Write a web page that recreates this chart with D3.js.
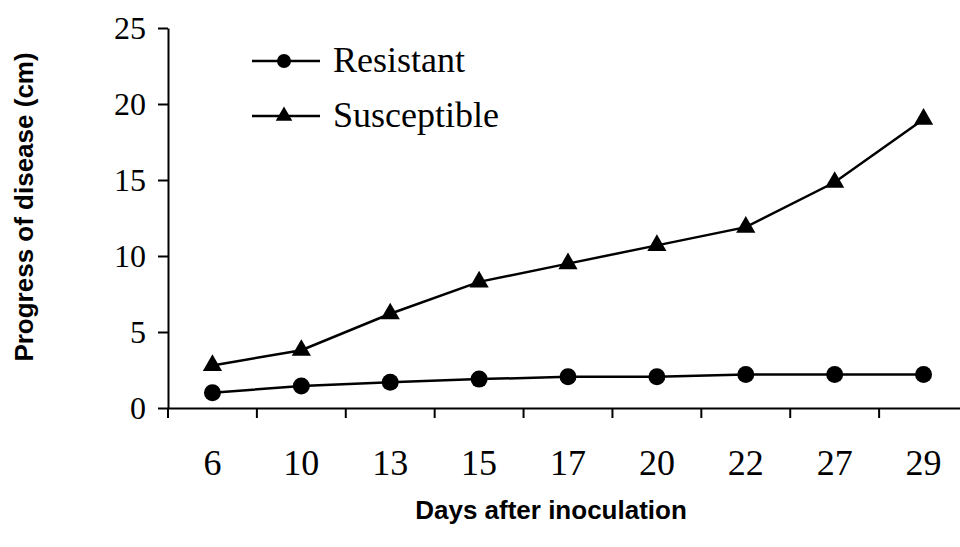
<!DOCTYPE html>
<html><head><meta charset="utf-8">
<script src="https://cdn.jsdelivr.net/npm/d3@7"></script>
<style>body{margin:0;background:#fff}svg{display:block}</style>
</head><body>
<svg id="c" width="960" height="547"></svg>
<script>
const days = ["6","10","13","15","17","20","22","27","29"];
const resistant = [1.0,1.45,1.7,1.9,2.05,2.05,2.2,2.2,2.2];
const susceptible = [2.8,3.8,6.2,8.3,9.5,10.7,11.9,14.85,19.0];
const yTicks = [0,5,10,15,20,25];
const seriesNames = ["Resistant","Susceptible"];

const svg = d3.select("#c");
const x = d3.scaleBand().domain(days).range([168,968]);
const y = d3.scaleLinear().domain([0,25]).range([408,28]);
const serif = "'Liberation Serif','Times New Roman',serif";
const sans = "'Liberation Sans',Arial,sans-serif";

// Y axis
const ya = svg.append("g").attr("transform","translate(168,0)")
  .call(d3.axisLeft(y).tickValues(yTicks).tickSize(10).tickPadding(12).tickSizeOuter(0));
ya.select(".domain").attr("stroke","#000").attr("stroke-width",2);
ya.selectAll(".tick line").attr("stroke","#000").attr("stroke-width",2);
ya.selectAll(".tick text").attr("font-family",serif).attr("font-size",32).attr("fill","#000");
svg.append("line").attr("x1",168).attr("x2",168).attr("y1",408).attr("y2",418).attr("stroke","#000").attr("stroke-width",2);

// X axis
const xa = svg.append("g").attr("transform","translate(0,408)")
  .call(d3.axisBottom(x).tickSize(0).tickSizeOuter(0));
xa.select(".domain").attr("stroke","#000").attr("stroke-width",2);
xa.selectAll(".tick text").attr("font-family",serif).attr("font-size",36).attr("fill","#000")
  .attr("y",67).attr("dy",0);
svg.append("g").selectAll("line").data(days).join("line")
  .attr("x1",d=>x(d)).attr("x2",d=>x(d)).attr("y1",408).attr("y2",418)
  .attr("stroke","#000").attr("stroke-width",2);

// Titles
svg.append("text").attr("x",551).attr("y",519).attr("text-anchor","middle")
  .attr("font-family",sans).attr("font-weight","bold").attr("font-size",26).text("Days after inoculation");
svg.append("text").attr("transform","translate(33,207) rotate(-90)").attr("text-anchor","middle")
  .attr("font-family",sans).attr("font-weight","bold").attr("font-size",26).text("Progress of disease (cm)");

const cx = d => x(d)+x.bandwidth()/2;
const line = d3.line().x((v,i)=>cx(days[i])).y(v=>y(v));
const tri = d3.symbol().type(d3.symbolTriangle);

svg.append("path").attr("d",line(susceptible)).attr("fill","none").attr("stroke","#000").attr("stroke-width",2.5);
svg.append("path").attr("d",line(resistant)).attr("fill","none").attr("stroke","#000").attr("stroke-width",2.5);
svg.append("g").selectAll("circle").data(resistant).join("circle")
  .attr("cx",(v,i)=>cx(days[i])).attr("cy",v=>y(v)).attr("r",8.5).attr("fill","#000");
svg.append("g").selectAll("path").data(susceptible).join("path")
  .attr("transform",(v,i)=>`translate(${cx(days[i])},${y(v)})`).attr("d",tri.size(160)).attr("fill","#000");

// Legend
const legY = [61,116];
const lg = svg.append("g");
seriesNames.forEach((n,i)=>{
  lg.append("line").attr("x1",252).attr("x2",320).attr("y1",legY[i]).attr("y2",legY[i]).attr("stroke","#000").attr("stroke-width",2.5);
  if(i===0) lg.append("circle").attr("cx",284).attr("cy",legY[i]).attr("r",7).attr("fill","#000");
  else lg.append("path").attr("transform",`translate(284,${legY[i]})`).attr("d",tri.size(120)).attr("fill","#000");
  lg.append("text").attr("x",333).attr("y",legY[i]+11).attr("font-family",serif).attr("font-size",36).text(n);
});
</script>
</body></html>
